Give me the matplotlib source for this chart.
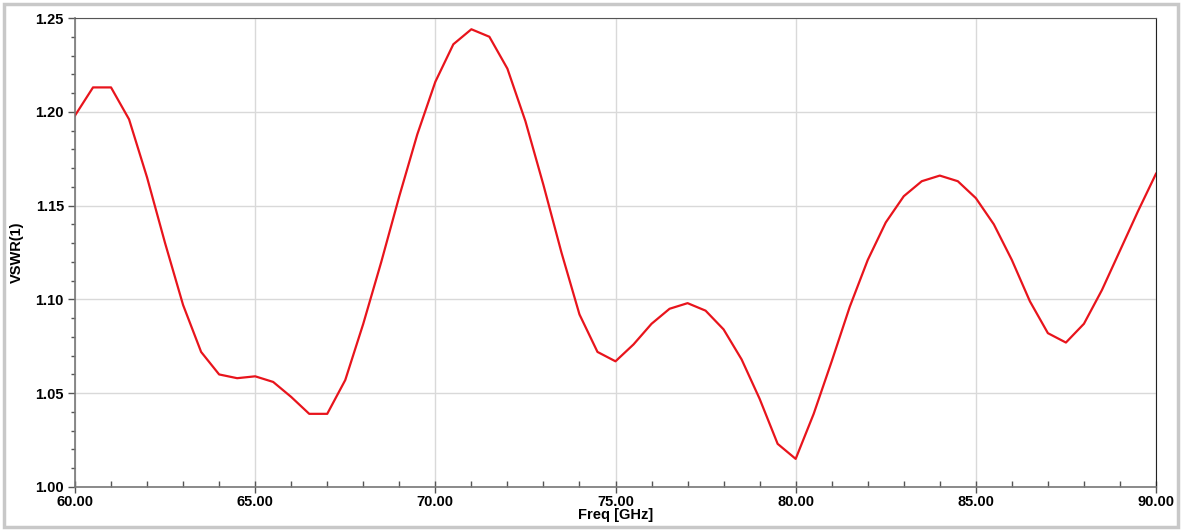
import numpy as np
from matplotlib import pyplot as plt
from matplotlib.patches import Rectangle
from matplotlib.ticker import MultipleLocator, FormatStrFormatter

# frequency sweep [GHz] and VSWR values
freq = [60.0, 60.5, 61.0, 61.5, 62.0, 62.5, 63.0, 63.5, 64.0, 64.5,
        65.0, 65.5, 66.0, 66.5, 67.0, 67.5, 68.0, 68.5, 69.0, 69.5,
        70.0, 70.5, 71.0, 71.5, 72.0, 72.5, 73.0, 73.5, 74.0, 74.5,
        75.0, 75.5, 76.0, 76.5, 77.0, 77.5, 78.0, 78.5, 79.0, 79.5,
        80.0, 80.5, 81.0, 81.5, 82.0, 82.5, 83.0, 83.5, 84.0, 84.5,
        85.0, 85.5, 86.0, 86.5, 87.0, 87.5, 88.0, 88.5, 89.0, 89.5, 90.0]
vswr = [1.198, 1.213, 1.213, 1.196, 1.165, 1.130, 1.097, 1.072, 1.060, 1.058,
        1.059, 1.056, 1.048, 1.039, 1.039, 1.057, 1.087, 1.120, 1.155, 1.188,
        1.216, 1.236, 1.244, 1.240, 1.223, 1.195, 1.161, 1.125, 1.092, 1.072,
        1.067, 1.076, 1.087, 1.095, 1.098, 1.094, 1.084, 1.068, 1.047, 1.023,
        1.015, 1.039, 1.067, 1.096, 1.121, 1.141, 1.155, 1.163, 1.166, 1.163,
        1.154, 1.140, 1.121, 1.099, 1.082, 1.077, 1.087, 1.105, 1.126, 1.147, 1.167]

plt.rcParams['font.family'] = ['Liberation Sans', 'DejaVu Sans']

fig = plt.figure(figsize=(11.84, 5.31), dpi=100)
ax = fig.add_axes([75 / 1184, 1 - 487 / 531, (1156 - 75) / 1184, (487 - 18) / 531])

# light frame around the whole picture
fig.patches.append(Rectangle((4 / 1184, 4 / 531), 1174 / 1184, 523 / 531,
                             transform=fig.transFigure, fill=False,
                             edgecolor='#c8c8c8', linewidth=2.5))

ax.plot(freq, vswr, color='#e8141c', linewidth=1.6)

ax.set_xlim(60, 90)
ax.set_ylim(1.0, 1.25)
ax.xaxis.set_major_locator(MultipleLocator(5))
ax.xaxis.set_minor_locator(MultipleLocator(1))
ax.yaxis.set_major_locator(MultipleLocator(0.05))
ax.yaxis.set_minor_locator(MultipleLocator(0.01))
ax.xaxis.set_major_formatter(FormatStrFormatter('%.2f'))
ax.yaxis.set_major_formatter(FormatStrFormatter('%.2f'))

ax.grid(True, which='major', color='#d9d9d9', linewidth=1.0)
ax.set_axisbelow(True)

ax.tick_params(axis='x', which='major', direction='inout', length=8, width=1, color='#555555', pad=2)
ax.tick_params(axis='x', which='minor', direction='in', length=4, width=1, color='#555555')
ax.tick_params(axis='y', which='major', direction='out', length=5, width=1, color='#555555', pad=3)
ax.tick_params(axis='y', which='minor', direction='out', length=3, width=1, color='#555555')
for lbl in ax.get_xticklabels() + ax.get_yticklabels():
    lbl.set_fontweight('bold')
    lbl.set_fontsize(10.5)

for side in ['left', 'bottom']:
    ax.spines[side].set_color('#777777')
    ax.spines[side].set_linewidth(1.2)
ax.spines['top'].set_color('#555555')
ax.spines['right'].set_color('#222222')

ax.set_xlabel("Freq [GHz]", fontweight='bold', fontsize=10.5, labelpad=-1)
ax.set_ylabel("VSWR(1)", fontweight='bold', fontsize=10.5, labelpad=8)

fig.savefig("out.png", dpi=100)
